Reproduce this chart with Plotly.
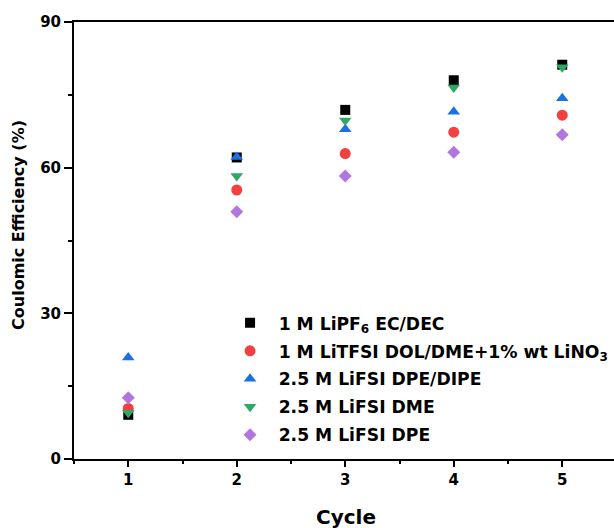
import plotly.graph_objects as go

# Coulombic efficiency per cycle for each electrolyte
cycles = [1, 2, 3, 4, 5]
lipf6_ec_dec = [9.1, 62.1, 71.9, 78.0, 81.2]
litfsi_dol_dme = [10.4, 55.4, 62.9, 67.3, 70.8]
lifsi_dpe_dipe = [20.9, 62.2, 67.9, 71.5, 74.3]
lifsi_dme = [9.5, 58.3, 69.7, 76.5, 80.7]
lifsi_dpe = [12.6, 50.9, 58.3, 63.2, 66.8]

series_names = [
    "1 M LiPF<sub>6</sub> EC/DEC",
    "1 M LiTFSI DOL/DME+1% wt LiNO<sub>3</sub>",
    "2.5 M LiFSI DPE/DIPE",
    "2.5 M LiFSI DME",
    "2.5 M LiFSI DPE",
]
series_values = [lipf6_ec_dec, litfsi_dol_dme, lifsi_dpe_dipe, lifsi_dme, lifsi_dpe]
series_colors = ["#000000", "#F23F3F", "#1E6FE3", "#2FA866", "#B277DE"]
series_symbols = ["square", "circle", "triangle-up", "triangle-down", "diamond"]
series_sizes = [10, 11, 11, 11, 10]

font_family = "DejaVu Sans, Verdana, sans-serif"

fig = go.Figure()
for i, (name, vals, col, sym, sz) in enumerate(
    zip(series_names, series_values, series_colors, series_symbols, series_sizes)
):
    fig.add_trace(
        go.Scatter(
            x=cycles,
            y=vals,
            mode="markers",
            name="\u2002" + name,
            legendgroup=f"g{i}",
            marker=dict(color=col, symbol=sym, size=sz, line=dict(width=0)),
        )
    )

axis_font = dict(family=font_family, size=15, color="#000000", weight="bold")

fig.update_layout(
    width=614,
    height=528,
    margin=dict(l=74, r=0, t=22, b=69, autoexpand=False),
    paper_bgcolor="white",
    plot_bgcolor="white",
    showlegend=True,
    legend=dict(
        x=0.289,
        y=0.352,
        xanchor="left",
        yanchor="top",
        bgcolor="rgba(0,0,0,0)",
        font=dict(family=font_family, size=17.2, color="#000000", weight="bold"),
        tracegroupgap=2.6,
        itemclick=False,
    ),
    xaxis=dict(
        range=[0.5, 0.5 + 540 / 108.5],
        tickmode="array",
        tickvals=cycles,
        ticktext=[str(c) for c in cycles],
        showline=True,
        linecolor="black",
        linewidth=2,
        mirror=True,
        ticks="outside",
        ticklen=6,
        tickwidth=2,
        tickcolor="black",
        showgrid=False,
        zeroline=False,
        tickfont=axis_font,
        minor=dict(ticks="outside", ticklen=3, tickwidth=2, tickcolor="black",
                   tickvals=[0.5, 1.5, 2.5, 3.5, 4.5, 5.5], showgrid=False),
    ),
    yaxis=dict(
        range=[0, 90],
        tickvals=[0, 30, 60, 90],
        showline=True,
        linecolor="black",
        linewidth=2,
        mirror=False,
        ticks="outside",
        ticklen=8,
        tickwidth=2,
        tickcolor="black",
        showgrid=False,
        zeroline=False,
        tickfont=axis_font,
        minor=dict(ticks="outside", ticklen=4, tickwidth=2, tickcolor="black",
                   tickvals=[15, 45, 75], showgrid=False),
    ),
    annotations=[
        dict(
            text="Cycle",
            xref="paper", yref="paper",
            x=0.5037, y=-0.1327,
            xanchor="center", yanchor="middle",
            showarrow=False,
            font=dict(family=font_family, size=20, color="#000000", weight="bold"),
        ),
        dict(
            text="Coulomic Efficiency (%)",
            xref="paper", yref="paper",
            x=-0.1019, y=0.5355,
            xanchor="center", yanchor="middle",
            textangle=-90,
            showarrow=False,
            font=dict(family=font_family, size=16, color="#000000", weight="bold"),
        ),
    ],
)

fig.write_html("out.html")
